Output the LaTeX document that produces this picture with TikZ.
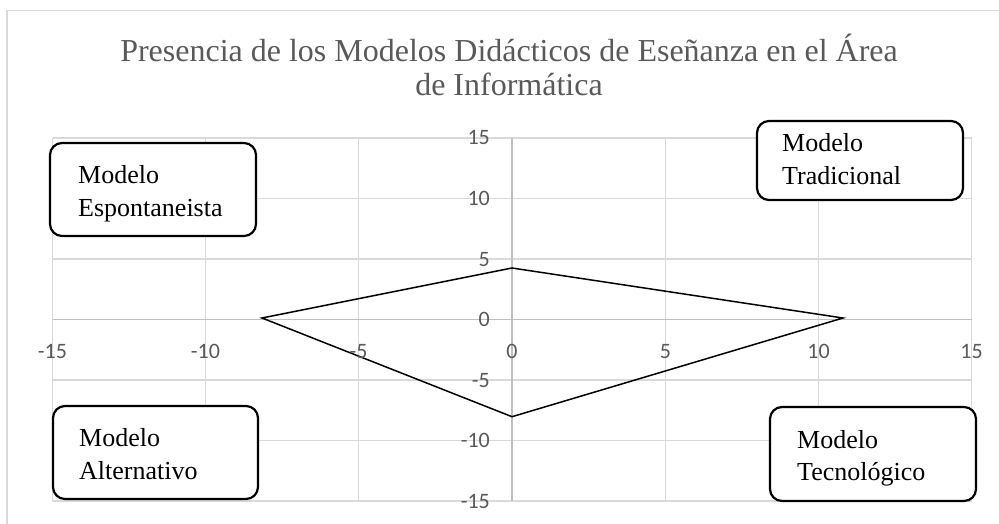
\documentclass[tikz,border=0pt]{standalone}
\usepackage{fontspec}
\setmainfont{Liberation Serif}
\newfontfamily\calib{Carlito}
\definecolor{gridc}{HTML}{D9D9D9}
\definecolor{axisc}{HTML}{BFBFBF}
\definecolor{labc}{HTML}{595959}
\tikzset{
  gridline/.style={draw=gridc, line width=1.3pt},
  axisline/.style={draw=axisc, line width=1.4pt},
  polyline/.style={draw=black, line width=1.5pt, line join=miter},
  mbox/.style={draw=black, fill=white, line width=2.2pt, rounded corners=12pt, inner sep=0pt},
  boxtext/.style={font=\fontsize{26}{33}\selectfont, inner sep=0pt, anchor=base west},
  ticklab/.style={font=\calib\fontsize{22}{26}\selectfont, text=labc, inner sep=0pt},
  titletext/.style={font=\fontsize{32}{36}\selectfont, text=labc, inner sep=0pt, anchor=base},
}
\begin{document}
\begin{tikzpicture}[x=1pt,y=-1pt]
\useasboundingbox (0,0) rectangle (999,524);
% outer frame (clipped by the page)
\draw[draw=gridc, line width=1.5pt] (7,524) -- (7,10.5) -- (999,10.5);
% title
\node[titletext] (t1) at (509,62) {Presencia de los Modelos Didácticos de Eseñanza en el Área};
\node[titletext] (t2) at (509,96) {de Informática};
% grid
\foreach \gx in {52.5,205.5,358.5,665.5,818.5,971.5} {
  \draw[gridline] (\gx,138) -- (\gx,501);
}
\foreach \gy in {138,198.5,259,380,440.5,501} {
  \draw[gridline] (52.5,\gy) -- (971.5,\gy);
}
% axes
\draw[axisline] (52.5,319.5) -- (971.5,319.5);
\draw[axisline] (512,138) -- (512,501);
% polygon
\coordinate (pl) at (262,318);
\coordinate (pt) at (512,268);
\coordinate (pr) at (843,318);
\coordinate (pb) at (512,416.7);
\draw[polyline] (pl) -- (pt) -- (pr) -- (pb) -- cycle;
% tick labels x
\node[ticklab, anchor=base] (x1) at (52.5,358) {-15};
\node[ticklab, anchor=base] (x2) at (205.5,358) {-10};
\node[ticklab, anchor=base] (x3) at (358.5,358) {-5};
\node[ticklab, anchor=base] (x4) at (512,358) {0};
\node[ticklab, anchor=base] (x5) at (665.5,358) {5};
\node[ticklab, anchor=base] (x6) at (818.5,358) {10};
\node[ticklab, anchor=base] (x7) at (971.5,358) {15};
% tick labels y
\node[ticklab, anchor=base east] (y1) at (490,145) {15};
\node[ticklab, anchor=base east] (y2) at (490,205.5) {10};
\node[ticklab, anchor=base east] (y3) at (490,266) {5};
\node[ticklab, anchor=base east] (y4) at (490,326.5) {0};
\node[ticklab, anchor=base east] (y5) at (490,387) {-5};
\node[ticklab, anchor=base east] (y6) at (490,447.5) {-10};
\node[ticklab, anchor=base east] (y7) at (490,508) {-15};
% boxes
\node[mbox, minimum width=206pt, minimum height=93pt] (esp) at (153,189.5) {};
\node[boxtext] (esp1) at (78,183) {Modelo};
\node[boxtext] (esp2) at (78,216) {Espontaneista};
\node[mbox, minimum width=206pt, minimum height=79pt] (tra) at (860,160.5) {};
\node[boxtext] (tra1) at (782,152) {Modelo};
\node[boxtext] (tra2) at (782,185) {Tradicional};
\node[mbox, minimum width=205pt, minimum height=93pt] (alt) at (155.5,452.5) {};
\node[boxtext] (alt1) at (79,446) {Modelo};
\node[boxtext] (alt2) at (79,479) {Alternativo};
\node[mbox, minimum width=206pt, minimum height=94pt] (tec) at (873,454) {};
\node[boxtext] (tec1) at (797,448) {Modelo};
\node[boxtext] (tec2) at (797,480) {Tecnológico};
\end{tikzpicture}
\end{document}
